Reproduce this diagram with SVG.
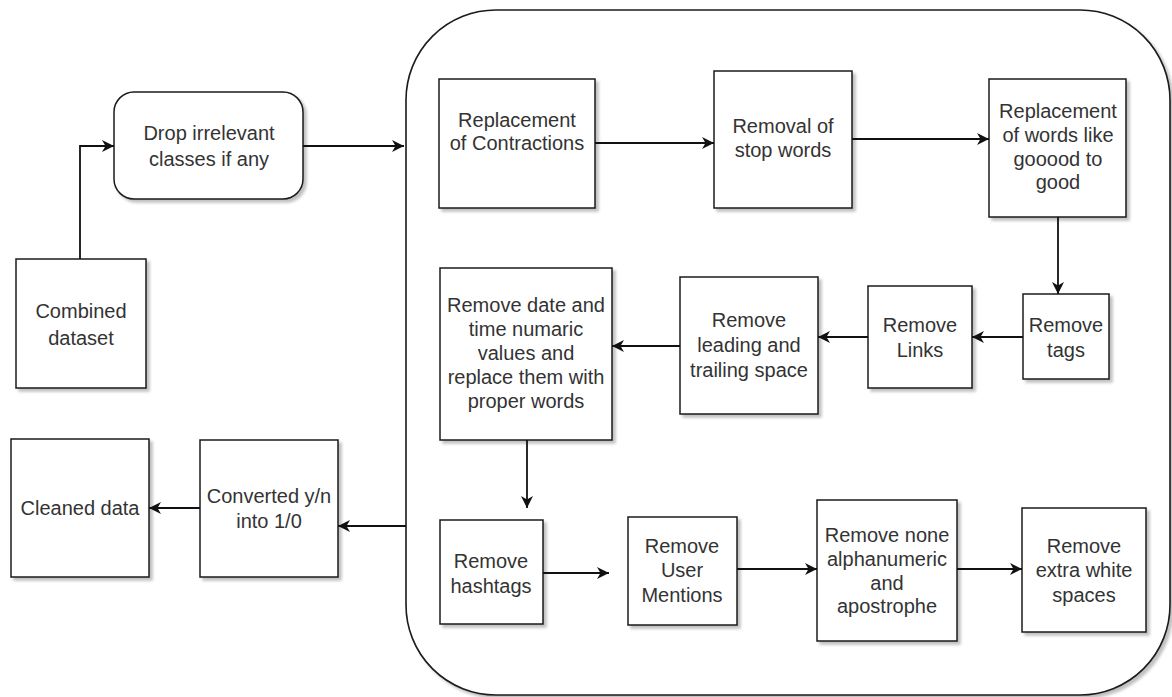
<svg xmlns="http://www.w3.org/2000/svg" width="1172" height="697" viewBox="0 0 1172 697">
<style>
.box{fill:#fff;stroke:#1a1a1a;stroke-width:1.5;filter:url(#sh)}
.cont{fill:#fff;stroke:#1a1a1a;stroke-width:1.6;filter:url(#sh)}
.t{font-family:"Liberation Sans",Arial,sans-serif;font-size:20px;fill:#333;text-anchor:middle}
.c{fill:none;stroke:#111;stroke-width:1.8;marker-end:url(#ah)}
</style>
<defs>
<filter id="sh" x="-10%" y="-10%" width="130%" height="130%">
<feGaussianBlur in="SourceAlpha" stdDeviation="1.5"/>
<feOffset dx="3" dy="3" result="o"/>
<feComponentTransfer><feFuncA type="linear" slope="0.25"/></feComponentTransfer>
<feMerge><feMergeNode/><feMergeNode in="SourceGraphic"/></feMerge>
</filter>
<marker id="ah" markerWidth="13" markerHeight="12" refX="12" refY="6" orient="auto" markerUnits="userSpaceOnUse">
<path d="M0,0 L12,6 L0,12 L3.5,6 Z" fill="#111"/>
</marker>
</defs>
<rect width="1172" height="697" fill="#fff"/>
<g id="container"><rect class="cont" x="406" y="10" width="764" height="685" rx="90" ry="90"/></g>

<g id="combined"><rect class="box" x="16" y="259" width="130" height="129"/>
<text class="t" x="81" y="318">Combined</text><text class="t" x="81" y="345">dataset</text></g>
<g id="drop"><rect class="box" x="114" y="92" width="189" height="107" rx="20" ry="20"/>
<text class="t" x="209" y="140">Drop irrelevant</text><text class="t" x="209" y="166">classes if any</text></g>
<g id="cleaned"><rect class="box" x="11" y="439" width="138" height="138"/>
<text class="t" x="80" y="515">Cleaned data</text></g>
<g id="converted"><rect class="box" x="200" y="440" width="138" height="137"/>
<text class="t" x="269" y="503">Converted y/n</text><text class="t" x="269" y="528">into 1/0</text></g>

<g id="contractions"><rect class="box" x="439" y="79" width="156" height="129"/>
<text class="t" x="517" y="127">Replacement</text><text class="t" x="517" y="150">of Contractions</text></g>
<g id="stopwords"><rect class="box" x="714" y="71" width="138" height="137"/>
<text class="t" x="783" y="133">Removal of</text><text class="t" x="783" y="157">stop words</text></g>
<g id="gooood"><rect class="box" x="989" y="79" width="137" height="138"/>
<text class="t" x="1058" y="118">Replacement</text><text class="t" x="1058" y="142">of words like</text><text class="t" x="1058" y="166">gooood to</text><text class="t" x="1058" y="189">good</text></g>
<g id="tags"><rect class="box" x="1023" y="294" width="86" height="85"/>
<text class="t" x="1066" y="332">Remove</text><text class="t" x="1066" y="357">tags</text></g>
<g id="links"><rect class="box" x="868" y="286" width="104" height="102"/>
<text class="t" x="920" y="332">Remove</text><text class="t" x="920" y="357">Links</text></g>
<g id="leading"><rect class="box" x="680" y="277" width="138" height="137"/>
<text class="t" x="749" y="327">Remove</text><text class="t" x="749" y="352">leading and</text><text class="t" x="749" y="377">trailing space</text></g>
<g id="datetime"><rect class="box" x="440" y="268" width="172" height="172"/>
<text class="t" x="526" y="312">Remove date and</text><text class="t" x="526" y="336">time numaric</text><text class="t" x="526" y="360">values and</text><text class="t" x="526" y="384">replace them with</text><text class="t" x="526" y="408">proper words</text></g>
<g id="hashtags"><rect class="box" x="440" y="520" width="103" height="104"/>
<text class="t" x="491" y="568">Remove</text><text class="t" x="491" y="593">hashtags</text></g>
<g id="mentions"><rect class="box" x="628" y="517" width="109" height="108"/>
<text class="t" x="682" y="553">Remove</text><text class="t" x="682" y="577">User</text><text class="t" x="682" y="602">Mentions</text></g>
<g id="nonealpha"><rect class="box" x="817" y="500" width="140" height="141"/>
<text class="t" x="887" y="542">Remove none</text><text class="t" x="887" y="566">alphanumeric</text><text class="t" x="887" y="590">and</text><text class="t" x="887" y="613">apostrophe</text></g>
<g id="extraspace"><rect class="box" x="1022" y="508" width="124" height="124"/>
<text class="t" x="1084" y="553">Remove</text><text class="t" x="1084" y="577">extra white</text><text class="t" x="1084" y="602">spaces</text></g>

<g id="connectors">
<path class="c" d="M80,259 V146 H114"/>
<path class="c" d="M303,146 H404"/>
<path class="c" d="M595,143 H714"/>
<path class="c" d="M852,139 H989"/>
<path class="c" d="M1058,217 V294"/>
<path class="c" d="M1023,337 H972"/>
<path class="c" d="M868,337 H818"/>
<path class="c" d="M680,346 H612"/>
<path class="c" d="M527,440 V508"/>
<path class="c" d="M543,573 H609"/>
<path class="c" d="M737,569 H817"/>
<path class="c" d="M957,569 H1022"/>
<path class="c" d="M406,526 H338"/>
<path class="c" d="M200,508 H149"/>
</g>
</svg>
